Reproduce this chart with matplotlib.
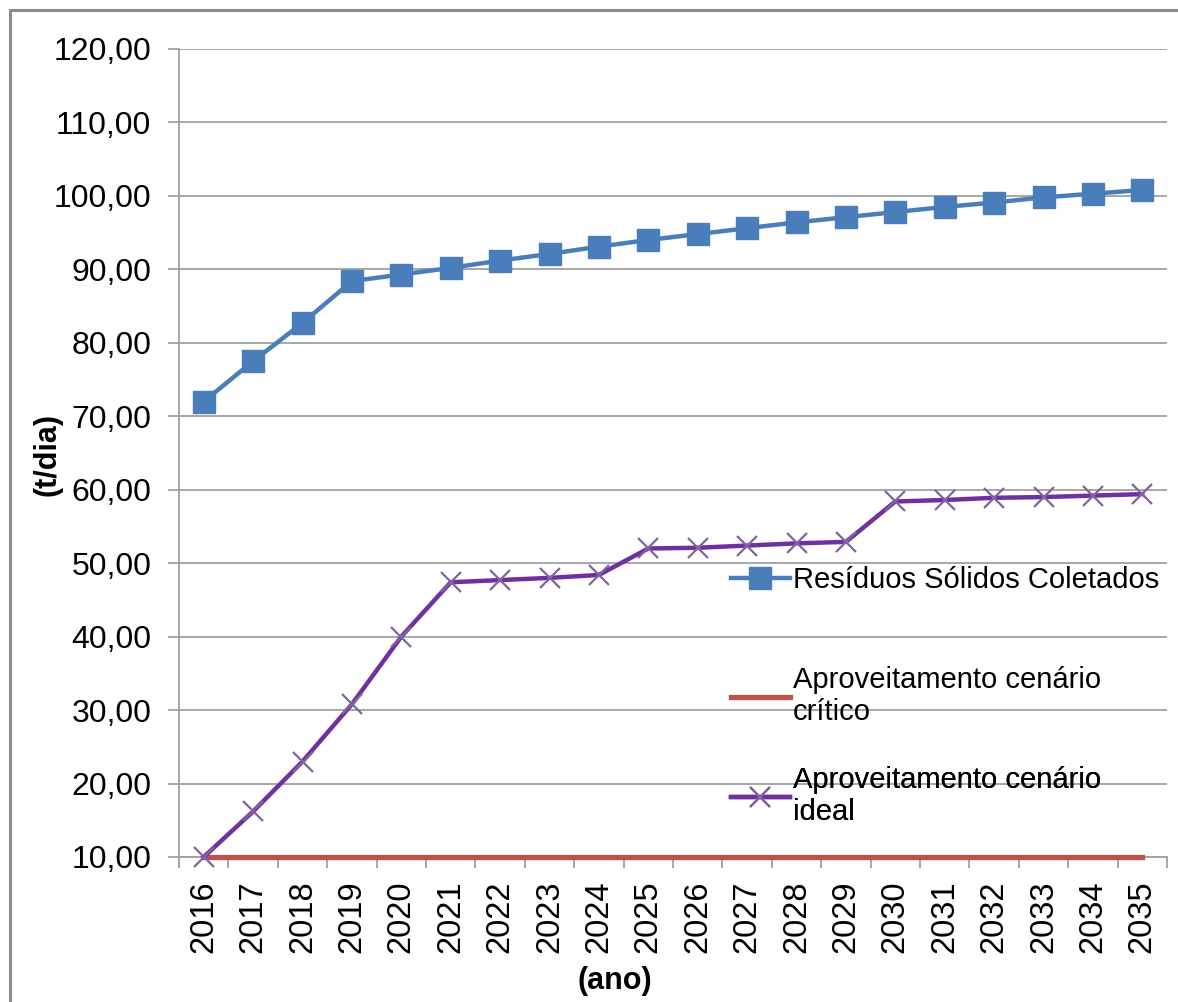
import matplotlib
matplotlib.use("Agg")
import matplotlib.pyplot as plt
from matplotlib.patches import Rectangle
from matplotlib.ticker import FixedLocator, FuncFormatter

plt.rcParams['font.family'] = ['Liberation Sans', 'DejaVu Sans']

years = [str(y) for y in range(2016, 2036)]
residuos = [72.0, 77.5, 82.7, 88.4, 89.3, 90.2, 91.2, 92.1, 93.1, 94.0,
            94.8, 95.6, 96.4, 97.1, 97.8, 98.5, 99.1, 99.8, 100.3, 100.8]
critico = [10.0] * 20
ideal = [10.0, 16.2, 23.0, 30.8, 40.0, 47.4, 47.7, 48.0, 48.4, 52.0,
         52.1, 52.4, 52.7, 52.9, 58.4, 58.6, 58.9, 59.0, 59.2, 59.4]
labels = ["Resíduos Sólidos Coletados",
          "Aproveitamento cenário\ncrítico",
          "Aproveitamento cenário\nideal"]
yticks = [10, 20, 30, 40, 50, 60, 70, 80, 90, 100, 110, 120]

W, H = 1178, 1002
fig = plt.figure(figsize=(W / 100, H / 100), dpi=100)
ax = fig.add_axes([179 / W, 1 - 857 / H, (1167 - 179) / W, (857 - 49) / H])

x = list(range(len(years)))
blue = '#4A7EBB'
red = '#C0504D'
purple = '#7030A0'
lpurple = '#8064A2'

l1, = ax.plot(x, residuos, color=blue, lw=3.2, marker='s', ms=16,
              mfc=blue, mec=blue, zorder=4, clip_on=False)
l2, = ax.plot(x, critico, color=red, lw=3.8, zorder=3, clip_on=False)
l3, = ax.plot(x, ideal, color=purple, lw=3.2, marker='x', ms=14, mew=1.6,
              mec=lpurple, zorder=4, clip_on=False)

ax.set_xlim(-0.5, len(years) - 0.5)
ax.set_ylim(10, 120)

grid_c = '#A0A0A0'
ax.yaxis.set_major_locator(FixedLocator(yticks))
ax.yaxis.set_major_formatter(FuncFormatter(lambda v, p: f"{v:.2f}".replace('.', ',')))
ax.yaxis.grid(True, color=grid_c, lw=1.3)
ax.set_axisbelow(True)

ax.set_xticks(x)
ax.set_xticklabels(years, rotation=90)
ax.set_xticks([i - 0.5 for i in range(len(years) + 1)], minor=True)
ax.tick_params(axis='x', which='major', length=0, pad=17, labelsize=23.5)
ax.tick_params(axis='x', which='minor', length=8, width=1.3, color=grid_c)
ax.tick_params(axis='y', which='major', length=8, width=1.3, color=grid_c,
               pad=12, labelsize=23)

for s in ['top', 'right']:
    ax.spines[s].set_visible(False)
for s in ['left', 'bottom']:
    ax.spines[s].set_color(grid_c)
    ax.spines[s].set_linewidth(1.3)

ax.set_ylabel("(t/dia)", fontsize=22, fontweight='bold')
ax.yaxis.set_label_coords(-(179 - 63) / 988, (857 - 455) / 808)
ax.set_xlabel("(ano)", fontsize=22, fontweight='bold')
ax.xaxis.set_label_coords((615 - 179) / 988, -(966 - 857) / 808)

# legend entries placed individually
positions = [0.343, 0.199, 0.0755]
for h, lab, yp in zip([l1, l2, l3], labels, positions):
    leg = ax.legend([h], [lab], loc='center left', bbox_to_anchor=(0.559, yp),
                    frameon=False, fontsize=21, handlelength=2.0,
                    handletextpad=0.12, borderpad=0, borderaxespad=0,
                    markerscale=1.0)
    ax.add_artist(leg)

# chart area border
fig.add_artist(Rectangle((10 / W, -0.1), 1.2, 1 - 10 / H + 0.1,
                         transform=fig.transFigure, fill=False,
                         edgecolor='#8C8C8C', lw=2.2))

fig.savefig("out.png", dpi=100)
